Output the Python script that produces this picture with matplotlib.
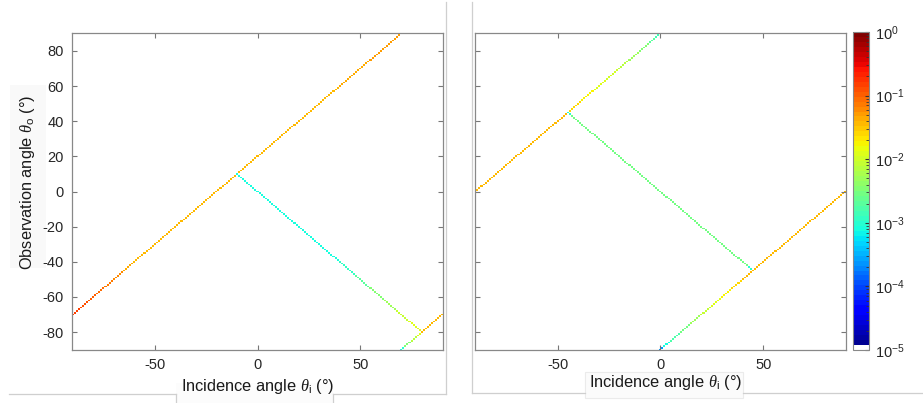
import numpy as np
import matplotlib
matplotlib.use('Agg')
import matplotlib.pyplot as plt
from matplotlib.colors import ListedColormap, LogNorm
from matplotlib.patches import Rectangle
from matplotlib.lines import Line2D

plt.rcParams['font.family'] = ['Liberation Sans', 'DejaVu Sans']
plt.rcParams['mathtext.fontset'] = 'custom'
plt.rcParams['mathtext.rm'] = 'Liberation Sans'
plt.rcParams['mathtext.it'] = 'Liberation Serif:italic'
plt.rcParams['axes.unicode_minus'] = False

# ---------------- data ----------------
theta = np.arange(-90, 91)          # incidence / observation grid (deg)
xticks = [-50, 0, 50]
yticks = [-80, -60, -40, -20, 0, 20, 40, 60, 80]
cbar_ticks = [1e-5, 1e-4, 1e-3, 1e-2, 1e-1, 1e0]

# Each line: theta_o = slope * theta_i + offset, piecewise log10 value over theta_i segments
# Left panel
L1_slope, L1_offset = 1, 20
L1_edges = [-90, -86, -82, -78, -74, -70, -65, -60, 40, 55, 70]
L1_log = [-0.85, -0.9, -0.97, -1.05, -1.15, -1.25, -1.35, -1.45, -1.38, -1.3]

L2_slope, L2_offset = -1, 0
L2_edges = [-10, 40, 48, 55, 62, 68, 74, 80]
L2_log = [-3.1, -2.95, -2.7, -2.5, -2.3, -2.1, -1.95]

L3_slope, L3_offset = 1, -160
L3_edges = [70, 72, 75, 78, 80, 90]
L3_log = [-3.0, -2.5, -2.15, -1.95, -1.45]

# Right panel
R1_slope, R1_offset = 1, 90
R1_edges = [-90, -45, -38, -32, -26, -20, -15, -10, -5, -2, 0]
R1_log = [-1.45, -1.6, -1.75, -1.9, -2.0, -2.15, -2.3, -2.5, -2.7, -2.85]

R2_slope, R2_offset = -1, 0
R2_edges = [-45, -43, 43, 45]
R2_log = [-3.0, -2.55, -3.0]

R3_slope, R3_offset = 1, -90
R3_edges = [0, 2, 5, 10, 15, 20, 25, 30, 35, 40, 90]
R3_log = [-3.6, -3.1, -2.8, -2.55, -2.3, -2.05, -1.9, -1.75, -1.6, -1.45]


def build(lines):
    Z = np.full((theta.size, theta.size), np.nan)
    for slope, offset, edges, logv in lines:
        edges = np.asarray(edges)
        for ti in theta:
            if ti < edges[0] or ti > edges[-1]:
                continue
            k = min(np.searchsorted(edges, ti, side='right') - 1, len(logv) - 1)
            to = slope * ti + offset
            if -90 <= to <= 90:
                Z[to + 90, ti + 90] = 10.0 ** logv[k]
    return np.ma.masked_invalid(Z)


Z_left = build([(L1_slope, L1_offset, L1_edges, L1_log),
                (L2_slope, L2_offset, L2_edges, L2_log),
                (L3_slope, L3_offset, L3_edges, L3_log)])
Z_right = build([(R1_slope, R1_offset, R1_edges, R1_log),
                 (R2_slope, R2_offset, R2_edges, R2_log),
                 (R3_slope, R3_offset, R3_edges, R3_log)])

# ---------------- style ----------------
cols = plt.cm.jet(np.linspace(0, 1, 64))
cols[0] = [1, 1, 1, 1]
cmap = ListedColormap(cols)
cmap.set_bad((1, 1, 1, 0))
norm = LogNorm(vmin=1e-5, vmax=1)

W, H = 923, 403
fig = plt.figure(figsize=(W / 100, H / 100), dpi=100)

# screenshot window frame artifacts
gray = '#cfcfcf'
fig.add_artist(Rectangle((10 / W, 1 - 268 / H), 36 / W, 183 / H, transform=fig.transFigure,
                         facecolor='#f9f9f9', edgecolor='none', zorder=0))
fig.add_artist(Rectangle((176 / W, 1 - 403 / H), 157 / W, 20 / H, transform=fig.transFigure,
                         facecolor='#fcfcfc', edgecolor='none', zorder=0))
fig.add_artist(Rectangle((585 / W, 1 - 398 / H), 158 / W, 26 / H, transform=fig.transFigure,
                         facecolor='#fbfbfb', edgecolor='#ebebeb', lw=0.8, zorder=0))
for xs, ys in [([9, 176], [394, 394]), ([176, 176], [394, 403]), ([333, 333], [394, 403]),
               ([333, 446], [394, 394]), ([446, 446], [2, 394]),
               ([472, 585], [393, 393]), ([743, 923], [393, 393]), ([472, 472], [2, 393])]:
    fig.add_artist(Line2D([x / W for x in xs], [1 - y / H for y in ys], color=gray, lw=0.9,
                          transform=fig.transFigure, zorder=0))

ax1 = fig.add_axes([72 / W, 1 - 350 / H, 371 / W, 317 / H])
ax2 = fig.add_axes([474.7 / W, 1 - 350 / H, 371.3 / W, 317 / H])
cax = fig.add_axes([853 / W, 1 - 350 / H, 16 / W, 318 / H])

edges_grid = np.arange(-90.5, 91.5, 1.0)
for ax, Z in [(ax1, Z_left), (ax2, Z_right)]:
    ax.pcolormesh(edges_grid, edges_grid, Z, cmap=cmap, norm=norm, shading='flat',
                  antialiased=False, rasterized=True)
    ax.set_xlim(-90.3, 90.3)
    ax.set_ylim(-90.2, 90.2)
    ax.set_xticks(xticks)
    ax.set_yticks(yticks)
    ax.tick_params(direction='in', top=True, right=True, length=3.5, width=0.8,
                   color='#777777', labelsize=10.5, labelcolor='#262626', pad=6)
    for s in ax.spines.values():
        s.set_color('#888888')
        s.set_linewidth(0.9)
    ax.set_facecolor('white')
    ax.set_xlabel(r'Incidence angle $\theta_{\rm i}$ (°)', fontsize=11.8, color='#1a1a1a')
    ax.xaxis.label.set_va('center')

ax1.xaxis.set_label_coords(0.5, (350 - 386) / 317)
ax2.xaxis.set_label_coords((666 - 474.7) / 371.3, (350 - 382) / 317)
ax2.set_yticklabels([])
ax1.set_ylabel(r'Observation angle $\theta_{\rm o}$ (°)', fontsize=11.8, color='#1a1a1a')
ax1.yaxis.label.set_va('center')
ax1.yaxis.set_label_coords((28 - 72) / 371, (350 - 182) / 317)

sm = plt.cm.ScalarMappable(norm=norm, cmap=cmap)
cb = fig.colorbar(sm, cax=cax, ticks=cbar_ticks)
cb.outline.set_edgecolor('#888888')
cb.outline.set_linewidth(0.8)
cax.tick_params(which='both', direction='in', labelsize=10.5, labelcolor='#262626',
                color='#333333', pad=4)
cax.tick_params(which='major', length=3)
cax.tick_params(which='minor', length=2)

fig.savefig('out.png', dpi=100, facecolor='white')
